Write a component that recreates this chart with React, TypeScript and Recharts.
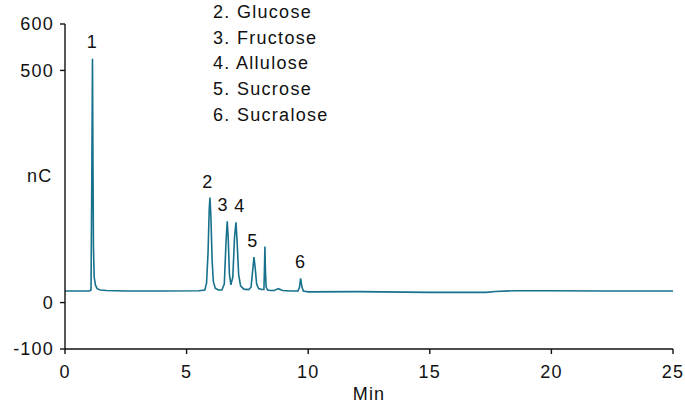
import { Line, LineChart, XAxis, YAxis, ReferenceDot } from 'recharts';

// retention time (min) and detector response (nC)
const times = [
  0, 0.5, 1.0, 1.07, 1.10, 1.13, 1.15, 1.17, 1.20, 1.25, 1.32, 1.45, 1.7, 2.5, 4.0, 5.5,
  5.75, 5.82, 5.88, 5.93, 5.96, 6.00, 6.05, 6.10, 6.18, 6.30, 6.45,
  6.55, 6.62, 6.67, 6.71, 6.76, 6.82, 6.90, 6.97, 7.03, 7.08, 7.14, 7.22, 7.35, 7.55,
  7.65, 7.71, 7.77, 7.82, 7.88, 7.96, 8.10, 8.18, 8.20, 8.22, 8.24, 8.27, 8.33, 8.45,
  8.6, 8.77, 8.95, 9.3, 9.58, 9.64, 9.69, 9.74, 9.80, 10.0, 12.0, 15.0, 17.3, 17.7,
  18.5, 20.0, 22.0, 25.0,
];
const signal = [
  25, 25, 25, 27, 250, 525, 300, 120, 55, 38, 30, 27, 26, 25, 25, 25.5,
  27, 42, 105, 200, 226, 185, 90, 45, 31, 27, 27,
  40, 130, 175, 140, 62, 38, 55, 140, 173, 128, 60, 36, 29, 28,
  33, 65, 98, 75, 40, 30, 28, 28, 70, 121, 70, 34, 27, 26,
  26, 30, 26, 25, 25, 33, 52, 34, 25, 23, 23.5, 22, 22, 24,
  25.5, 25.5, 25, 25,
];

const peakIds = ['1', '2', '3', '4', '5', '6'];
const peakTimes = [1.13, 5.96, 6.67, 7.03, 7.77, 9.69];
const peakHeights = [525, 226, 175, 173, 98, 52];
const peakLabelShift = [0, -2, -4, 4, -1, 0];

const analytes = ['2. Glucose', '3. Fructose', '4. Allulose', '5. Sucrose', '6. Sucralose'];

const xTicks = [0, 5, 10, 15, 20, 25];
const yTicks = [-100, 0, 500, 600];

const data = times.map((t, i) => ({ t, nc: signal[i] }));

const font = 'Liberation Sans, Arial, Helvetica, sans-serif';
const tickStyle = { fontSize: 18, fill: '#111', fontFamily: font, letterSpacing: 1.2 };

export default function App() {
  return (
    <div style={{ position: 'absolute', left: 0, top: 0, width: 685, height: 404, background: '#fff' }}>
      <LineChart width={685} height={404} data={data} margin={{ top: 24, right: 12, bottom: 0, left: 0 }}>
        <XAxis
          dataKey="t"
          type="number"
          domain={[0, 25]}
          ticks={xTicks}
          height={55}
          stroke="#111"
          strokeWidth={1.4}
          tickSize={5}
          tick={tickStyle}
          tickMargin={11}
          label={{ value: 'Min', position: 'insideBottom', offset: 4, style: { ...tickStyle, fill: '#111' } }}
        />
        <YAxis
          type="number"
          domain={[-100, 600]}
          ticks={yTicks}
          width={65}
          stroke="#111"
          strokeWidth={1.4}
          tickSize={5}
          tick={tickStyle}
          tickMargin={6}
          label={{ value: 'nC', position: 'insideLeft', offset: 27, dy: -11, style: { ...tickStyle, fill: '#111' } }}
        />
        <Line
          type="linear"
          dataKey="nc"
          stroke="#17718d"
          strokeWidth={1.6}
          dot={false}
          isAnimationActive={false}
        />
        {peakIds.map((id, i) => (
          <ReferenceDot
            key={id}
            x={peakTimes[i]}
            y={peakHeights[i]}
            r={0}
            fill="none"
            stroke="none"
            label={{ value: id, position: 'top', offset: i === 0 ? 11 : 10, dx: peakLabelShift[i], style: { ...tickStyle, fill: '#111' } }}
          />
        ))}
      </LineChart>
      <div
        style={{
          position: 'absolute',
          left: 213,
          top: 0,
          fontFamily: font,
          fontSize: 18,
          letterSpacing: 1.3,
          lineHeight: '25.7px',
          color: '#111',
        }}
      >
        {analytes.map((a) => (
          <div key={a}>{a}</div>
        ))}
      </div>
    </div>
  );
}
